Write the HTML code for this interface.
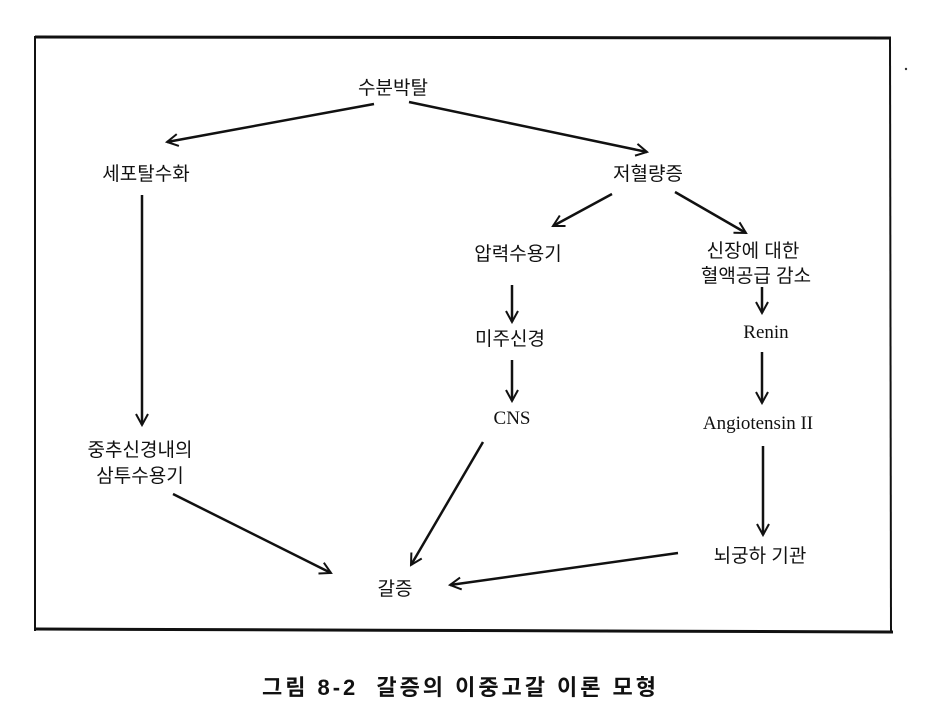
<!DOCTYPE html>
<html><head><meta charset="utf-8"><style>
html,body{margin:0;padding:0;background:#fff;}
svg{display:block;}
text{font-family:"Liberation Sans","Noto Sans CJK KR",sans-serif;font-size:19px;fill:#111;}
.s{font-family:"Liberation Serif","Noto Serif CJK SC",serif;font-size:19px;}
</style></head><body>
<svg width="927" height="706" viewBox="0 0 927 706" xmlns="http://www.w3.org/2000/svg">
<defs>
<marker id="a" markerWidth="14" markerHeight="14" refX="12" refY="7" orient="auto" markerUnits="userSpaceOnUse">
<path d="M1,1 L12,7 L1,13" fill="none" stroke="#111" stroke-width="2"/>
</marker>
</defs>
<g fill="none" stroke="#111">
<line x1="35" y1="37" x2="891" y2="38" stroke-width="3"/>
<line x1="35" y1="36" x2="35" y2="631" stroke-width="2"/>
<line x1="890" y1="37" x2="891" y2="632" stroke-width="2"/>
<line x1="35" y1="629" x2="893" y2="632" stroke-width="3"/>
</g>
<circle cx="906" cy="69" r="1.2" fill="#333"/>
<g stroke="#111" stroke-width="2.5" fill="none" marker-end="url(#a)">
<line x1="374" y1="104" x2="167" y2="142"/>
<line x1="409" y1="102" x2="647" y2="152"/>
<line x1="612" y1="194" x2="553" y2="226"/>
<line x1="675" y1="192" x2="746" y2="233"/>
<line x1="142" y1="195" x2="142" y2="425"/>
<line x1="512" y1="285" x2="512" y2="322"/>
<line x1="512" y1="360" x2="512" y2="401"/>
<line x1="762" y1="287" x2="762" y2="313"/>
<line x1="762" y1="352" x2="762" y2="403"/>
<line x1="763" y1="446" x2="763" y2="535"/>
<line x1="173" y1="494" x2="331" y2="573"/>
<line x1="483" y1="442" x2="411" y2="565"/>
<line x1="678" y1="553" x2="450" y2="585"/>
</g>
<text x="393" y="94" text-anchor="middle">수분박탈</text>
<text x="146" y="180" text-anchor="middle">세포탈수화</text>
<text x="648" y="180" text-anchor="middle">저혈량증</text>
<text x="518" y="260" text-anchor="middle">압력수용기</text>
<text x="753" y="257" text-anchor="middle">신장에 대한</text>
<text x="756" y="282" text-anchor="middle">혈액공급 감소</text>
<text x="510" y="345" text-anchor="middle">미주신경</text>
<text class="s" x="766" y="338" text-anchor="middle">Renin</text>
<text class="s" x="512" y="424" text-anchor="middle">CNS</text>
<text class="s" x="758" y="429" text-anchor="middle">Angiotensin II</text>
<text x="140" y="456" text-anchor="middle">중추신경내의</text>
<text x="140" y="482" text-anchor="middle">삼투수용기</text>
<text x="760" y="562" text-anchor="middle">뇌궁하 기관</text>
<text x="395" y="595" text-anchor="middle">갈증</text>
<text x="262" y="695" textLength="394" lengthAdjust="spacing" xml:space="preserve" style="font-size:22px;font-weight:bold;">그림 8-2  갈증의 이중고갈 이론 모형</text>
</svg>
</body></html>
